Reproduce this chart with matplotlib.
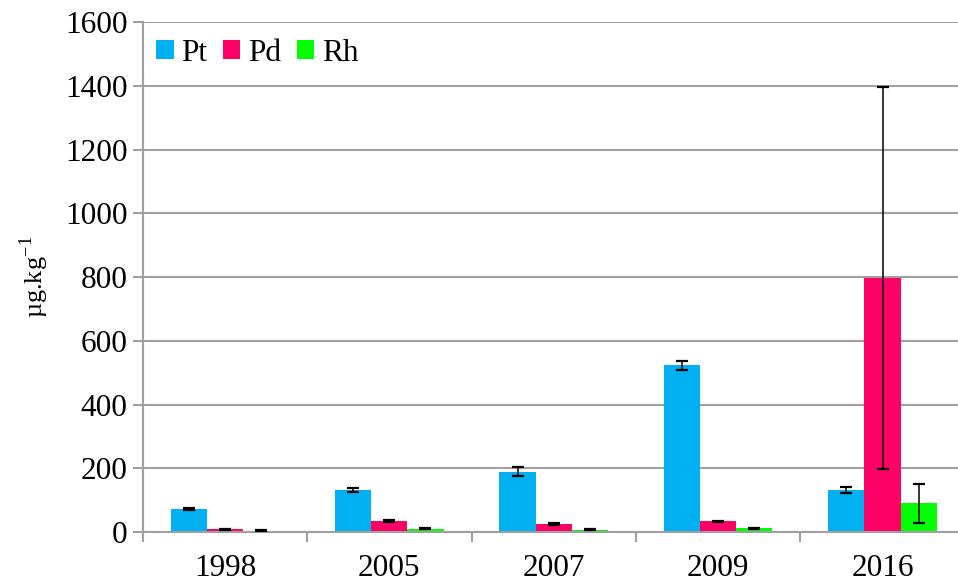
import numpy as np
import matplotlib.pyplot as plt

years = ['1998', '2005', '2007', '2009', '2016']
metals = ['Pt', 'Pd', 'Rh']
colors = ['#00B0F0', '#FF0066', '#00FF00']

# mean concentrations and standard deviations per year
pt = [71, 132, 189, 523, 132]
pd_ = [8, 34, 24, 34, 798]
rh = [4, 11, 7, 12, 90]
pt_err = [3, 7, 14, 13, 9]
pd_err = [2, 3, 3, 2, 600]
rh_err = [1, 2, 1, 2, 61]

plt.rcParams['font.family'] = ['Liberation Serif', 'DejaVu Serif']

fig = plt.figure(figsize=(9.58, 5.84), dpi=100)
ax = fig.add_axes([0.149, 0.089, 0.858, 0.873])

x = np.arange(len(years))
w = 0.22
grid_c = '#a0a0a0'

for i, (vals, errs) in enumerate([(pt, pt_err), (pd_, pd_err), (rh, rh_err)]):
  pos = x + (i - 1) * w
  ax.bar(pos, vals, width=w, color=colors[i], label=metals[i], zorder=2)
  ax.errorbar(pos, vals, yerr=errs, fmt='none', ecolor='black',
              elinewidth=1.1, capsize=4.5, capthick=1.6, zorder=3)

ax.set_ylim(0, 1600)
ax.set_yticks(range(0, 1601, 200))
ax.set_xlim(-0.5, len(years) - 0.5)
ax.set_xticks(x)
ax.set_xticklabels(years)
ax.set_xticks(np.arange(-0.5, len(years), 1.0), minor=True)
ax.tick_params(axis='x', which='major', length=0, labelsize=22.5, pad=16)
ax.tick_params(axis='x', which='minor', length=7, width=1.5, color=grid_c)
ax.tick_params(axis='y', length=7, width=1.5, color=grid_c, labelsize=22.5, pad=4)

ax.yaxis.grid(True, color=grid_c, linewidth=1.5, zorder=0)
ax.set_axisbelow(True)
for s in ['top', 'right']:
  ax.spines[s].set_visible(False)
for s in ['left', 'bottom']:
  ax.spines[s].set_color(grid_c)
  ax.spines[s].set_linewidth(1.5)

ax.set_ylabel(r'µg.kg$^{\mathregular{-1}}$', fontsize=19, labelpad=10)

ax.legend(loc='upper left', ncol=3, frameon=False, fontsize=22.5,
          handlelength=0.55, handleheight=0.55, handletextpad=0.25,
          columnspacing=0.5, borderpad=0.2, bbox_to_anchor=(-0.01, 1.01))

fig.savefig('out.png', dpi=100)
